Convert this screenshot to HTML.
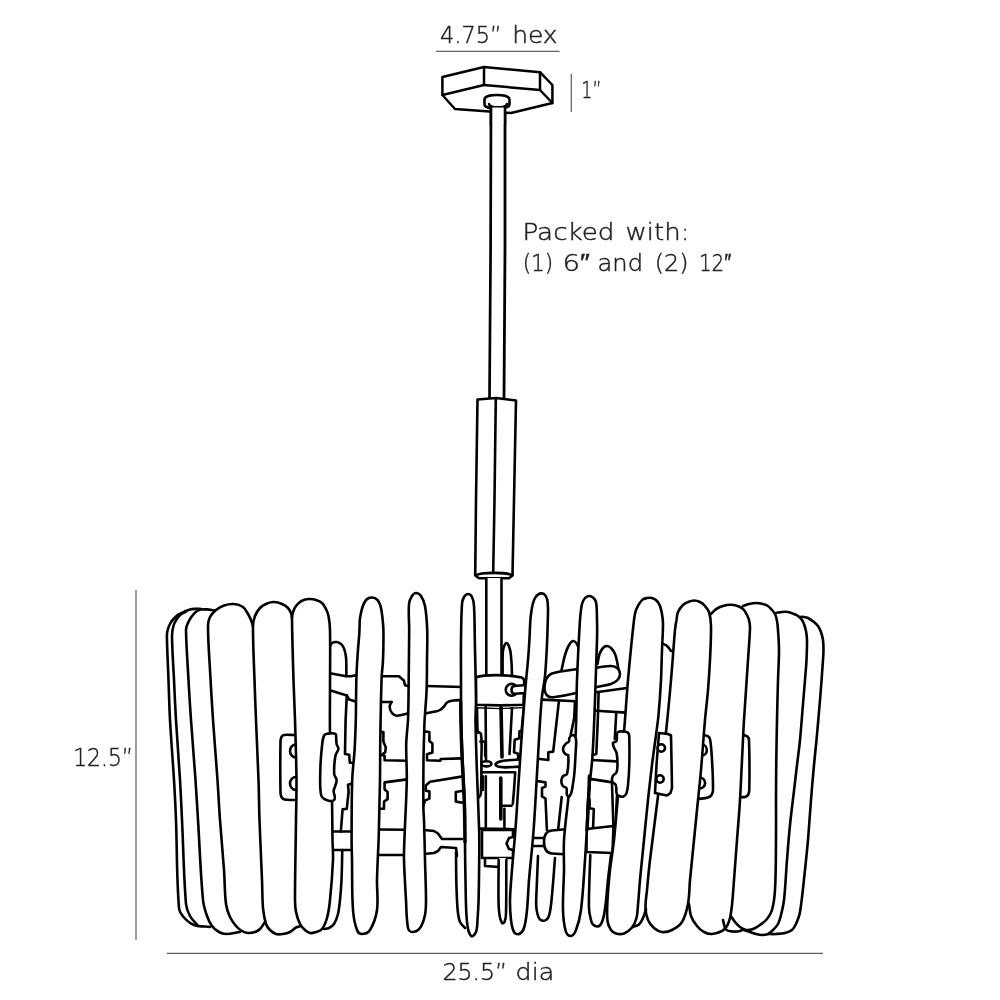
<!DOCTYPE html>
<html><head><meta charset="utf-8"><title>Pendant dimensions</title>
<style>
html,body{margin:0;padding:0;background:#fff}
body{width:1000px;height:1000px;overflow:hidden}
svg{display:block;will-change:transform}
text{font-family:"DejaVu Sans Light","DejaVu Sans","Liberation Sans",sans-serif;font-weight:200;fill:#222}
</style></head><body>
<svg width="1000" height="1000" viewBox="0 0 1000 1000" stroke-linejoin="round" stroke-linecap="round">
<rect width="1000" height="1000" fill="#fff"/>
<line x1="436" y1="51.4" x2="559.5" y2="51.4" stroke="#606060" stroke-width="1.25" stroke-linecap="butt"/>
<line x1="571.3" y1="74" x2="571.3" y2="112" stroke="#606060" stroke-width="1.25" stroke-linecap="butt"/>
<line x1="136" y1="590" x2="136" y2="940" stroke="#606060" stroke-width="1.25" stroke-linecap="butt"/>
<line x1="167" y1="953.4" x2="823" y2="953.4" stroke="#606060" stroke-width="1.25" stroke-linecap="butt"/>
<text y="43" font-size="23.5" stroke="#222" stroke-width="0.45"><tspan x="440" textLength="61.5" lengthAdjust="spacingAndGlyphs">4.75”</tspan> <tspan x="512.2" textLength="45.4" lengthAdjust="spacingAndGlyphs">hex</tspan></text>
<text y="98" font-size="23.5" stroke="#222" stroke-width="0.45"><tspan x="581.3" textLength="20.2" lengthAdjust="spacingAndGlyphs">1”</tspan></text>
<text y="240" font-size="23.5" stroke="#222" stroke-width="0.45"><tspan x="522.5" textLength="92" lengthAdjust="spacingAndGlyphs">Packed</tspan> <tspan x="625.5" textLength="64" lengthAdjust="spacingAndGlyphs">with:</tspan></text>
<text y="270.5" font-size="23.5" stroke="#222" stroke-width="0.45"><tspan x="522.7" textLength="30.6" lengthAdjust="spacingAndGlyphs">(1)</tspan> <tspan x="562.4" textLength="27.3" lengthAdjust="spacingAndGlyphs">6″</tspan> <tspan x="597.5" textLength="45.5" lengthAdjust="spacingAndGlyphs">and</tspan> <tspan x="654.7" textLength="33.8" lengthAdjust="spacingAndGlyphs">(2)</tspan> <tspan x="698.9" textLength="32.3" lengthAdjust="spacingAndGlyphs">12″</tspan></text>
<text y="766" font-size="24.5" stroke="#222" stroke-width="0.45"><tspan x="73.2" textLength="60" lengthAdjust="spacingAndGlyphs">12.5”</tspan></text>
<text y="980" font-size="23.5" stroke="#222" stroke-width="0.45"><tspan x="442.4" textLength="65" lengthAdjust="spacingAndGlyphs">25.5”</tspan> <tspan x="515.6" textLength="38.6" lengthAdjust="spacingAndGlyphs">dia</tspan></text>
<path d="M491 104L490.6 250L489.5 399L504 399L505 250L505 104Z" fill="#fff" stroke="none" stroke-width="0" />
<path d="M491 104L490.6 250L489.5 399" fill="none" stroke="#000" stroke-width="2.7" />
<path d="M505 104L505 250L504 399" fill="none" stroke="#000" stroke-width="2.8" />
<path d="M442.4 77L484 67L540 72.2L552.4 85L552.4 103L511 113L455 109L442.4 95Z" fill="#fff" stroke="#000" stroke-width="2.5" />
<path d="M484 67L484 85L442.4 95" fill="none" stroke="#000" stroke-width="2.5" />
<path d="M484 85L540 90L540 72.2" fill="none" stroke="#000" stroke-width="2.5" />
<path d="M540 90L552.4 103" fill="none" stroke="#000" stroke-width="2.5" />
<path d="M484.5 99.5 C484.5 93.5 509.5 93.5 509.5 99.5 L509.5 104.5 C509.5 110 484.5 110 484.5 104.5 Z" fill="#fff" stroke="#000" stroke-width="2.6"/>
<path d="M489 104 C490 108.5 506 108.5 507 104" fill="none" stroke="#000" stroke-width="2.6"/>
<path d="M491 107.5 L491 125 L505 125 L505 107.5" fill="#fff" stroke="none"/>
<path d="M491 106.5L491 125" fill="none" stroke="#000" stroke-width="2.6" />
<path d="M505 106.5L505 125" fill="none" stroke="#000" stroke-width="2.6" />
<path d="M477.5 399.5L496 398L516 400.5L514 500L512.5 575.5L509 578.3L479 578.3L475.2 575.5L476 500Z" fill="#fff" stroke="#000" stroke-width="2.6" />
<path d="M495.8 398.5L494.5 500L493.2 573" fill="none" stroke="#000" stroke-width="2.6" />
<path d="M475.8 575.5 C480 572 508 572 512.2 575.5" fill="none" stroke="#000" stroke-width="2.6"/>
<path d="M486.3 578L486.3 676L501.5 676L501.5 578Z" fill="#fff" stroke="none" stroke-width="0" />
<path d="M486.3 578L486.3 676" fill="none" stroke="#000" stroke-width="2.6" />
<path d="M501.5 578L501.5 676" fill="none" stroke="#000" stroke-width="2.6" />
<path d="M330 646C330.7 645 331 643.6 332 643C333.3 642.2 335 641.8 336.6 642C338.2 642.2 339.8 643 341 644C342.3 645 343.1 646.5 343.8 648C344.7 649.9 345.1 652 345.5 654C345.9 656 346.1 658 346.2 660C346.4 665.3 346.3 670.7 346.4 676" fill="none" stroke="#000" stroke-width="2.6" />
<path d="M502.6 676C502.7 668 502.4 660 502.8 652C502.9 649.9 503.4 647.9 504.2 646C504.7 644.8 505.3 643 506.6 643C507.8 643 508.3 644.9 508.8 646C509.6 647.9 510.2 649.9 510.5 652C511.1 656 511.3 660 511.6 664C511.8 668 511.9 672 512 676L512 700L503 700Z" fill="#fff" stroke="none" stroke-width="0" />
<path d="M502.6 676C502.7 668 502.4 660 502.8 652C502.9 649.9 503.4 647.9 504.2 646C504.7 644.8 505.3 643 506.6 643C507.8 643 508.3 644.9 508.8 646C509.6 647.9 510.2 649.9 510.5 652C511.1 656 511.3 660 511.6 664C511.8 668 511.9 672 512 676" fill="none" stroke="#000" stroke-width="2.6" />
<path d="M560 676C560.7 673.3 561.4 670.7 562 668C563 663.7 563.7 659.3 565 655C565.9 651.9 566.9 648.8 568.5 646C569.6 644.1 570.8 641.5 573 641C574.6 640.6 576.1 642.6 577 644C578.2 645.8 578.3 648 579 650L579 700L560 700Z" fill="#fff" stroke="none" stroke-width="0" />
<path d="M560 676C560.7 673.3 561.4 670.7 562 668C563 663.7 563.7 659.3 565 655C565.9 651.9 566.9 648.8 568.5 646C569.6 644.1 570.8 641.5 573 641C574.6 640.6 576.1 642.6 577 644C578.2 645.8 578.3 648 579 650" fill="none" stroke="#000" stroke-width="2.6" />
<path d="M597.5 664C598.2 660.7 598.4 657.2 599.5 654C600.3 651.8 601.4 649.7 603 648C604 646.9 605.5 645.9 607 646C608.7 646.1 610.3 647.3 611.5 648.5C613 650 614.1 652 615 654C616 656.2 616.5 658.6 617 661C617.6 664 618 667 618.5 670L618 700L597 700Z" fill="#fff" stroke="none" stroke-width="0" />
<path d="M597.5 664C598.2 660.7 598.4 657.2 599.5 654C600.3 651.8 601.4 649.7 603 648C604 646.9 605.5 645.9 607 646C608.7 646.1 610.3 647.3 611.5 648.5C613 650 614.1 652 615 654C616 656.2 616.5 658.6 617 661C617.6 664 618 667 618.5 670" fill="none" stroke="#000" stroke-width="2.6" />
<path d="M663.5 644C664.7 644.7 666 645.1 667 646C668.6 647.5 669.7 649.3 671 651" fill="none" stroke="#000" stroke-width="2.6" />
<path d="M342.3 850C342 860 342 870 341.5 880C341.2 886.7 340.7 893.3 340 900C339.5 904.7 339.1 909.4 338 914C337.1 917.5 335.9 921 334 924C332.8 925.8 330.9 927 329 928C327.5 928.8 325.7 928.7 324 929" fill="none" stroke="#000" stroke-width="2.6" />
<path d="M456 852C456.1 861.3 456.1 870.7 456.3 880C456.4 886.7 456.7 893.3 457 900C457.2 904.3 457.4 908.7 458 913C458.4 916 458.7 919.2 460 922C461.1 924.4 463.3 926 465 928" fill="none" stroke="#000" stroke-width="2.6" />
<path d="M330 673.2L346.2 676.2L351 676.2L357 675" fill="none" stroke="#000" stroke-width="2.6" />
<path d="M330.6 690.6L346.8 695.4L349.2 699.6L357 702" fill="none" stroke="#000" stroke-width="2.6" />
<path d="M346.8 695.4L345.6 720L345 754L349.2 754.8L349.8 762.6L353 763" fill="none" stroke="#000" stroke-width="2.6" />
<path d="M352 783.6L348 784.8L348.6 792L347.4 802.8L346.8 808.8L342.6 809.4L340.8 831.6" fill="none" stroke="#000" stroke-width="2.6" />
<path d="M331 831.5L353 831.5" fill="none" stroke="#000" stroke-width="2.6" />
<path d="M331 850L353 850" fill="none" stroke="#000" stroke-width="2.6" />
<path d="M382 676.2L399 676.2L403.8 680.4L405 685.2L410 686.4" fill="none" stroke="#000" stroke-width="2.6" />
<path d="M382 702L391.5 702" fill="none" stroke="#000" stroke-width="2.6" />
<path d="M391.5 702C390.9 703.6 389.6 705.1 389.6 706.8C389.7 708.9 390.5 711.1 391.8 712.8C393 714.3 394.7 715.8 396.6 715.8C401.2 715.8 405.5 713.8 410 712.8" fill="none" stroke="#000" stroke-width="2.6" />
<path d="M380 732L383.4 732L383.4 741.6L385.8 747.6L385.2 752.4L381.6 754.8L384.6 756L384.6 760.2L408 760.8" fill="none" stroke="#000" stroke-width="2.6" />
<path d="M407 779.4L384.6 782.4L384.6 789.6L387.6 792L387.6 799.2L384 801.6L384 808.8L379 808.8" fill="none" stroke="#000" stroke-width="2.6" />
<path d="M378 829.5L406 829.8" fill="none" stroke="#000" stroke-width="2.6" />
<path d="M377 855L406 855" fill="none" stroke="#000" stroke-width="2.6" />
<path d="M426 686L462 687" fill="none" stroke="#000" stroke-width="2.6" />
<path d="M426 713.4C429 712.8 432 712.3 435 711.6C436.7 711.2 438.5 710.9 440 710C441.5 709.1 442.8 707.8 444 706.5C445.1 705.3 445.6 703.4 447 702.5C448.8 701.3 450.9 700.8 453 700.5C456 700 459 700.2 462 700" fill="none" stroke="#000" stroke-width="2.6" />
<path d="M424 731.4L429.4 732L429.4 741L432.4 743.4L432.4 752.4L427 754.2L427 760.2L440.2 760.8L440.8 759L462 758.4" fill="none" stroke="#000" stroke-width="2.6" />
<path d="M463 776.4L430 781.8L425.8 785.4L425.8 790.8L429.4 791.4L429.4 798.6L425.2 800.4L423 806.4" fill="none" stroke="#000" stroke-width="2.6" />
<path d="M463 790.8L455.8 792L455.8 801.6L463 802.8" fill="none" stroke="#000" stroke-width="2.6" />
<path d="M424 830L434 831L438 833.5L442 839L462 839" fill="none" stroke="#000" stroke-width="2.6" />
<path d="M424 854L434 853L438 851L441 847L456 848L457 856" fill="none" stroke="#000" stroke-width="2.6" />
<path d="M476 677.3 C484 674.6 506 674.2 521.5 677.6 C523.5 678.2 524.2 679.5 524.2 681.5 L523.5 704.8 L500 705.4 L476 704.8 Z" fill="#fff" stroke="#000" stroke-width="2.6"/>
<path d="M476 707.8L500 708.6L523 707.6" fill="none" stroke="#000" stroke-width="1.4" />
<circle cx="511.6" cy="689.8" r="5.9" fill="#fff" stroke="#000" stroke-width="2.6"/>
<path d="M526 685 L514.5 686 C510.5 686.5 510.5 693.5 514.5 693.8 L526 693 Z" fill="#fff" stroke="#000" stroke-width="2.6"/>
<path d="M477 708L477.5 733" fill="none" stroke="#000" stroke-width="2.6" />
<path d="M485.6 707L486 760" fill="none" stroke="#000" stroke-width="2.6" />
<path d="M501 707L502 757" fill="none" stroke="#000" stroke-width="3.6" />
<path d="M512 708L509.5 754" fill="none" stroke="#000" stroke-width="2.6" />
<path d="M524 707L521.6 731" fill="none" stroke="#000" stroke-width="2.6" />
<path d="M477 731C478.3 732 480.7 732.4 481 734C482.3 742.6 481.4 751.3 481.4 760C481.4 771.3 481.6 782.7 480.8 794C480.7 795.3 479.5 796.3 478.8 797.5" fill="none" stroke="#000" stroke-width="2.6" />
<path d="M480.4 741.6L485.2 741.6L485.2 756" fill="none" stroke="#000" stroke-width="2.6" />
<path d="M521.6 731L519.4 731.3L519.4 738.3L514.7 739.7L514 752.3L518.2 753.7L518 760" fill="none" stroke="#000" stroke-width="2.6" />
<ellipse cx="486.4" cy="763.8" rx="5" ry="2.6" fill="#fff" stroke="#000" stroke-width="2.6"/>
<path d="M521 759.5 L505 760.5 C499 761.2 495.5 763 495.5 764.6 C495.5 766.3 499 767.2 505 767.4 L521 766.6" fill="#fff" stroke="#000" stroke-width="2.6"/>
<path d="M481.6 772.2L515.2 772.2L514 790L512.8 804" fill="none" stroke="#000" stroke-width="2.6" />
<path d="M482.8 776.4L482.8 790" fill="none" stroke="#000" stroke-width="2.6" />
<path d="M485.8 776.4L485.8 826.8" fill="none" stroke="#000" stroke-width="2.6" />
<path d="M500.8 778L500.8 819" fill="none" stroke="#000" stroke-width="3.6" />
<path d="M500.8 805.8L511.6 805.8" fill="none" stroke="#000" stroke-width="2.6" />
<path d="M504.4 808.8L504.4 828" fill="none" stroke="#000" stroke-width="2.6" />
<path d="M480.4 828.6L515.2 829.2" fill="none" stroke="#000" stroke-width="2.6" />
<path d="M482 830L513 830L513 837L509 838L506.5 843.5L509 849L513 850L513 858L482 858Z" fill="#fff" stroke="#000" stroke-width="2.6" />
<path d="M485 860L485 866L499 867" fill="none" stroke="#000" stroke-width="2.6" />
<path d="M498.7 860C498.6 873.3 498.3 886.7 498.5 900C498.6 905 498.7 910 499.5 915C499.9 917.8 500.4 920.7 502 923C502.5 923.7 504.1 922.8 504.5 922C505.6 919.5 505.9 916.7 506 914C506.5 896 506.2 878 506.3 860L506 858L499 858Z" fill="#fff" stroke="none" stroke-width="0" />
<path d="M498.7 860C498.6 873.3 498.3 886.7 498.5 900C498.6 905 498.7 910 499.5 915C499.9 917.8 500.4 920.7 502 923C502.5 923.7 504.1 922.8 504.5 922C505.6 919.5 505.9 916.7 506 914C506.5 896 506.2 878 506.3 860" fill="none" stroke="#000" stroke-width="2.6" />
<path d="M544.6 686C544.9 683.4 545.2 680.7 546.5 678.5C547.8 676.4 549.7 674.3 552 673.6C559.8 671.2 567.9 670.4 576 669.3C583 668.4 590 668.3 597 667.6C601.7 667.2 606.3 665.8 611 666C613.3 666.1 615.8 666.8 617.5 668.3C619.1 669.7 620 671.9 620 674C620 676.2 618.9 678.4 617.5 680C615.8 681.9 613.4 683.2 611 684C606.5 685.5 601.6 685.8 597 687C589.9 688.8 583.1 691.3 576 693C569.1 694.7 562.1 696.1 555 697C552.8 697.3 550.4 697.5 548.5 696.5C546.8 695.7 545.7 693.8 545 692C544.3 690.1 544.4 688 544.6 686Z" fill="#fff" stroke="#000" stroke-width="2.6" />
<path d="M542 699.6L576 701.2" fill="none" stroke="#000" stroke-width="2.6" />
<path d="M558.8 702L553.2 751.6L548.3 752.3L548.3 760L538 758.8" fill="none" stroke="#000" stroke-width="2.6" />
<path d="M575 701L574.2 718L570.7 734.8" fill="none" stroke="#000" stroke-width="2.6" />
<path d="M537 781L545.5 782.4L545.5 786.6L542 788L542 796.4L545.5 798.5L546.9 830" fill="none" stroke="#000" stroke-width="2.6" />
<path d="M561.7 797L558 831" fill="none" stroke="#000" stroke-width="2.6" />
<path d="M533 838L544 838" fill="none" stroke="#000" stroke-width="2.6" />
<path d="M533 846L544 846" fill="none" stroke="#000" stroke-width="2.6" />
<path d="M568 829 L552 830.5 C546 831 544 836 544 842 C544 848 546 853 552 853.5 L568 854.5" fill="#fff" stroke="#000" stroke-width="2.6"/>
<path d="M538 856C537.6 865.7 537.2 875.3 536.8 885C536.6 891.7 536 898.3 536.2 905C536.3 908 536.7 911.1 537.5 914C538 915.9 538.4 918.3 540 919.5C541.6 920.7 544.3 921 546 920C548 918.8 549 916.3 549.5 914C551 907.8 551.4 901.4 552 895C553.2 882.7 554 870.3 555 858" fill="none" stroke="#000" stroke-width="2.6" />
<path d="M596 692.2L627 688" fill="none" stroke="#000" stroke-width="2.6" />
<path d="M596 710.8L626 712.6" fill="none" stroke="#000" stroke-width="2.6" />
<path d="M616.2 713.8L614.8 739" fill="none" stroke="#000" stroke-width="2.6" />
<path d="M592 760L616.2 761.4" fill="none" stroke="#000" stroke-width="2.6" />
<path d="M590 778.9L612.5 782.4" fill="none" stroke="#000" stroke-width="2.6" />
<path d="M589.6 788L587.5 796.4L589.6 800L589.6 808.3L593.8 809L593.1 827.2" fill="none" stroke="#000" stroke-width="2.6" />
<path d="M612 783.8L613.4 826" fill="none" stroke="#000" stroke-width="2.6" />
<path d="M616.9 796.4L615.5 830" fill="none" stroke="#000" stroke-width="2.6" />
<path d="M586.5 829L613.5 826L612.5 853L586.5 852Z" fill="#fff" stroke="#000" stroke-width="2.6" />
<path d="M590.3 855C590 865 589.5 875 589.3 885C589.1 892.7 588.7 900.3 589 908C589.1 911.4 589.7 914.7 590.5 918C591 920.3 591.3 922.9 593 924.5C594.5 925.9 597.2 927 599 926C601.4 924.7 602.2 921.6 603 919C604.4 914.5 604.9 909.7 605.5 905C606.6 896.7 607.1 888.3 608 880C608.9 871.7 610 863.3 611 855" fill="none" stroke="#000" stroke-width="2.6" />
<path d="M799 617C800.7 617 802.3 616.8 804 617C805.4 617.2 806.8 617.4 808 618C810.1 619.1 812.1 620.5 814 622C815.5 623.2 816.9 624.5 818 626C819.3 627.8 820.2 629.9 821 632C821.9 634.6 822.6 637.3 823 640C823.5 643.3 823.5 646.7 823.5 650C823.5 653.3 823.2 656.7 823 660C822.1 673.3 821.1 686.7 820 700C818.9 713.3 817.7 726.7 816.5 740C815.7 748.3 814.8 756.7 814 765C812.9 776.7 811.9 788.3 811 800C809.9 813.3 809.1 826.7 808 840C807.1 850 806.1 860 805 870C803.4 884 802.3 898.1 800 912C799.3 916.2 797.7 920.1 796 924C795 926.2 793.9 928.5 792 930C790 931.6 787.5 932.4 785 933C782.1 933.7 779 933.8 776 934C773.3 934.2 770.7 934 768 934L780 700Z" fill="#fff" stroke="none" stroke-width="0" />
<path d="M799 617C800.7 617 802.3 616.8 804 617C805.4 617.2 806.8 617.4 808 618C810.1 619.1 812.1 620.5 814 622C815.5 623.2 816.9 624.5 818 626C819.3 627.8 820.2 629.9 821 632C821.9 634.6 822.6 637.3 823 640C823.5 643.3 823.5 646.7 823.5 650C823.5 653.3 823.2 656.7 823 660C822.1 673.3 821.1 686.7 820 700C818.9 713.3 817.7 726.7 816.5 740C815.7 748.3 814.8 756.7 814 765C812.9 776.7 811.9 788.3 811 800C809.9 813.3 809.1 826.7 808 840C807.1 850 806.1 860 805 870C803.4 884 802.3 898.1 800 912C799.3 916.2 797.7 920.1 796 924C795 926.2 793.9 928.5 792 930C790 931.6 787.5 932.4 785 933C782.1 933.7 779 933.8 776 934C773.3 934.2 770.7 934 768 934" fill="none" stroke="#000" stroke-width="2.6" />
<path d="M776 613C778 612.7 780 612.2 782 612C784 611.8 786 611.7 788 612C790.1 612.3 792 613.2 794 614C795.4 614.6 796.8 615.1 798 616C799.5 617.1 800.9 618.5 802 620C802.9 621.2 803.5 622.6 804 624C804.8 626.3 805.6 628.6 806 631C806.6 634 806.9 637 807 640C807.1 646.7 806.8 653.3 806.5 660C806.2 666.7 805.5 673.3 805 680C804.2 690 803.3 700 802.5 710C801.7 720 801 730 800 740C799.2 748.4 798 756.7 797 765C795.8 775 794.7 785 793.5 795C792.3 805 791 815 790 825C788.8 836.7 787.9 848.3 787 860C785.9 873.3 785.5 886.7 784 900C783.4 905.1 782.2 910.1 781 915C780.2 918.1 779.5 921.2 778 924C776.8 926.3 774.8 928.2 773 930C771.5 931.5 769.9 933.1 768 934C766.2 934.8 764 935 762 935C760 935 758 934.5 756 934C754 933.5 752 932.7 750 932C748 931.3 746 930.7 744 930L760 700Z" fill="#fff" stroke="none" stroke-width="0" />
<path d="M776 613C778 612.7 780 612.2 782 612C784 611.8 786 611.7 788 612C790.1 612.3 792 613.2 794 614C795.4 614.6 796.8 615.1 798 616C799.5 617.1 800.9 618.5 802 620C802.9 621.2 803.5 622.6 804 624C804.8 626.3 805.6 628.6 806 631C806.6 634 806.9 637 807 640C807.1 646.7 806.8 653.3 806.5 660C806.2 666.7 805.5 673.3 805 680C804.2 690 803.3 700 802.5 710C801.7 720 801 730 800 740C799.2 748.4 798 756.7 797 765C795.8 775 794.7 785 793.5 795C792.3 805 791 815 790 825C788.8 836.7 787.9 848.3 787 860C785.9 873.3 785.5 886.7 784 900C783.4 905.1 782.2 910.1 781 915C780.2 918.1 779.5 921.2 778 924C776.8 926.3 774.8 928.2 773 930C771.5 931.5 769.9 933.1 768 934C766.2 934.8 764 935 762 935C760 935 758 934.5 756 934C754 933.5 752 932.7 750 932C748 931.3 746 930.7 744 930" fill="none" stroke="#000" stroke-width="2.6" />
<path d="M743 606C745 605.3 746.9 604.5 749 604C751.3 603.5 753.6 603 756 603C758.4 603 760.7 603.4 763 604C764.7 604.4 766.5 605 768 606C769.6 607 770.8 608.6 772 610C773.1 611.3 774.3 612.5 775 614C776 616.2 776.6 618.6 777 621C777.6 624 777.8 627 778 630C778.5 636.7 779 643.3 779 650C779 660 778.3 670 778 680C777.6 693.3 777.3 706.7 777 720C776.7 733.3 776.5 746.7 776.3 760C776.1 773.3 776.1 786.7 776 800C776 813.3 776.1 826.7 776 840C775.8 856.7 776 873.4 775 890C774.6 896.7 773.8 903.5 772 910C771.1 913.3 769.1 916.3 767 919C765.1 921.4 762.5 923.2 760 925C757.8 926.6 755.5 928.1 753 929C750.8 929.8 748.3 930.4 746 930C743.8 929.7 741.8 928.3 740 927C738.1 925.6 736.5 923.8 735 922C733.2 919.8 731.7 917.3 730 915L740 700Z" fill="#fff" stroke="none" stroke-width="0" />
<path d="M743 606C745 605.3 746.9 604.5 749 604C751.3 603.5 753.6 603 756 603C758.4 603 760.7 603.4 763 604C764.7 604.4 766.5 605 768 606C769.6 607 770.8 608.6 772 610C773.1 611.3 774.3 612.5 775 614C776 616.2 776.6 618.6 777 621C777.6 624 777.8 627 778 630C778.5 636.7 779 643.3 779 650C779 660 778.3 670 778 680C777.6 693.3 777.3 706.7 777 720C776.7 733.3 776.5 746.7 776.3 760C776.1 773.3 776.1 786.7 776 800C776 813.3 776.1 826.7 776 840C775.8 856.7 776 873.4 775 890C774.6 896.7 773.8 903.5 772 910C771.1 913.3 769.1 916.3 767 919C765.1 921.4 762.5 923.2 760 925C757.8 926.6 755.5 928.1 753 929C750.8 929.8 748.3 930.4 746 930C743.8 929.7 741.8 928.3 740 927C738.1 925.6 736.5 923.8 735 922C733.2 919.8 731.7 917.3 730 915" fill="none" stroke="#000" stroke-width="2.6" />
<path d="M744 735C745.2 735.5 746.6 735.6 747.5 736.5C748.4 737.4 749 738.7 749 740C749.6 756.7 749.6 773.3 749.3 790C749.3 791.7 748.9 793.5 748 795C747.4 796 746.2 796.7 745 797C743.4 797.4 741.7 797 740 797L738 735Z" fill="#fff" stroke="none" stroke-width="0" />
<path d="M744 735C745.2 735.5 746.6 735.6 747.5 736.5C748.4 737.4 749 738.7 749 740C749.6 756.7 749.6 773.3 749.3 790C749.3 791.7 748.9 793.5 748 795C747.4 796 746.2 796.7 745 797C743.4 797.4 741.7 797 740 797" fill="none" stroke="#000" stroke-width="2.6" />
<path d="M711 614C712.3 612.7 713.5 611.2 715 610C716.5 608.8 718.2 607.7 720 607C722.2 606.1 724.6 605.3 727 605C729.3 604.7 731.7 604.6 734 605C736.1 605.3 738.1 606.1 740 607C741.5 607.7 742.9 608.7 744 610C745.3 611.5 746.1 613.3 747 615C747.8 616.6 748.6 618.3 749 620C749.6 622.6 750.1 625.3 750 628C749.7 638.7 748.7 649.3 748 660C747.4 670 746.7 680 746 690C745.3 700 744.6 710 744 720C743.2 733.3 742.7 746.7 742 760C741.3 773.3 740.8 786.7 740 800C739.2 813.3 738 826.7 737 840C736 853.3 735 866.7 734 880C733.4 888.3 732.9 896.7 732 905C731.5 909.4 731 913.7 730 918C729.3 920.8 728.5 923.6 727 926C725.8 928 724.1 929.9 722 931C718.9 932.6 715.5 933.8 712 934C709.3 934.2 706.4 933.3 704 932C701.3 930.6 698.9 928.4 697 926C694.5 923 692.3 919.7 691 916C689.6 912.2 689.7 908 689 904L700 700Z" fill="#fff" stroke="none" stroke-width="0" />
<path d="M711 614C712.3 612.7 713.5 611.2 715 610C716.5 608.8 718.2 607.7 720 607C722.2 606.1 724.6 605.3 727 605C729.3 604.7 731.7 604.6 734 605C736.1 605.3 738.1 606.1 740 607C741.5 607.7 742.9 608.7 744 610C745.3 611.5 746.1 613.3 747 615C747.8 616.6 748.6 618.3 749 620C749.6 622.6 750.1 625.3 750 628C749.7 638.7 748.7 649.3 748 660C747.4 670 746.7 680 746 690C745.3 700 744.6 710 744 720C743.2 733.3 742.7 746.7 742 760C741.3 773.3 740.8 786.7 740 800C739.2 813.3 738 826.7 737 840C736 853.3 735 866.7 734 880C733.4 888.3 732.9 896.7 732 905C731.5 909.4 731 913.7 730 918C729.3 920.8 728.5 923.6 727 926C725.8 928 724.1 929.9 722 931C718.9 932.6 715.5 933.8 712 934C709.3 934.2 706.4 933.3 704 932C701.3 930.6 698.9 928.4 697 926C694.5 923 692.3 919.7 691 916C689.6 912.2 689.7 908 689 904" fill="none" stroke="#000" stroke-width="2.6" />
<path d="M723 920C724 923.2 723.8 927 726 929.5C727.6 931.3 730.6 931.2 733 931.5C735.3 931.7 737.7 931.5 740 931C741.5 930.7 742.7 929.7 744 929" fill="none" stroke="#000" stroke-width="2.6" />
<path d="M703 735C704.5 735.3 706.2 735.2 707.5 736C708.6 736.6 709.8 737.7 710 739C711.3 745.9 711.6 753 712 760C712.6 770 713.1 780 713 790C713 791.7 712.5 793.6 711.5 795C710.7 796.2 709.4 797.1 708 797.5C704.8 798.5 701.3 798.5 698 799L696 735Z" fill="#fff" stroke="none" stroke-width="0" />
<path d="M703 735C704.5 735.3 706.2 735.2 707.5 736C708.6 736.6 709.8 737.7 710 739C711.3 745.9 711.6 753 712 760C712.6 770 713.1 780 713 790C713 791.7 712.5 793.6 711.5 795C710.7 796.2 709.4 797.1 708 797.5C704.8 798.5 701.3 798.5 698 799" fill="none" stroke="#000" stroke-width="2.6" />
<ellipse cx="701.8" cy="750" rx="5" ry="5.5" fill="none" stroke="#000" stroke-width="2.6"/>
<ellipse cx="699.6" cy="783" rx="5.5" ry="5.5" fill="none" stroke="#000" stroke-width="2.6"/>
<path d="M675 630C675.3 626.6 675.9 623.3 676.5 620C676.9 617.3 676.9 614.5 678 612C679.1 609.4 681 607 683 605C684.4 603.6 686.2 602.7 688 602C689.9 601.2 691.9 600.5 694 600.5C696.1 600.5 698.2 601.1 700 602C701.9 603 703.6 604.4 705 606C706.6 607.8 708.3 609.7 709 612C710.4 616.5 710.9 621.3 711 626C711.2 637.3 710.5 648.7 710 660C709.5 670 708.8 680 708 690C707.2 700 705.9 710 705 720C703.5 736.7 702.5 753.3 701 770C699.8 783.3 698.3 796.7 697 810C696 820 695 830 694 840C692.7 853.3 691.3 866.7 690 880C689.3 888 689.5 896.1 688 904C686.8 910.2 685.3 916.6 682 922C679.8 925.6 675.8 928.1 672 930C669 931.5 665.4 932.4 662 932C659 931.7 656.3 929.9 654 928C651.5 925.8 649.3 923.1 648 920C646.4 916.2 645.6 912.1 645.5 908C645.3 902 646.4 896 647 890C647.9 880 648.8 870 650 860C652.5 838.6 655.3 817.3 658 796C660.7 774.7 663.6 753.4 666 732C667.9 714.7 669.5 697.3 671 680C672.5 663.3 673.5 646.7 675 630Z" fill="#fff" stroke="#000" stroke-width="2.6" />
<path d="M634 620C634.4 616.6 634.7 613.2 636 610C637.4 606.4 639.4 602.9 642 600C643.2 598.7 645.2 598.4 647 598C648.6 597.7 650.4 597.5 652 598C653.9 598.6 655.6 599.6 657 601C658.4 602.4 659.3 604.2 660 606C661 608.6 661.5 611.3 662 614C662.6 617.3 663 620.7 663 624C663 632.7 662.3 641.3 662 650C661.6 660 661.5 670 661 680C660.4 691.7 659.6 703.4 658.5 715C657.9 721.7 656.9 728.3 656 735C654.7 745 653.2 755 652 765C650.6 776.7 649.2 788.3 648 800C646.6 813.3 645.3 826.7 644 840C642.7 853.3 641.2 866.7 640 880C639.2 888.3 638.8 896.7 638 905C637.6 909.3 637.6 913.8 636.5 918C635.6 921.4 634.2 924.8 632 927.5C629.9 930.1 627.1 932.3 624 933.5C621.5 934.4 618.6 934.2 616 933.5C614 933 612.1 931.7 611 930C609.2 927.3 607.9 924.2 607.5 921C606.7 914 607.2 907 607.5 900C608 890 608.9 880 610 870C611.1 860 612.9 850 614 840C615.6 825.4 616.6 810.7 618 796C620 774.7 622.2 753.3 624 732C625.5 714.7 626.5 697.3 628 680C629.8 660 631.7 640 634 620Z" fill="#fff" stroke="#000" stroke-width="2.6" />
<path d="M633 927C635 926.2 637.4 925.9 639 924.5C640.9 922.8 642 920.3 643 918C644.3 915.1 645 912 646 909" fill="none" stroke="#000" stroke-width="2.6" />
<path d="M659 733L668 734L671 735.5L671.5 760L672 788L670.5 793L667 795.5L655 793L656.5 765Z" fill="#fff" stroke="#000" stroke-width="2.6" />
<circle cx="661.3" cy="748" r="3.7" fill="#fff" stroke="#000" stroke-width="2.6"/>
<circle cx="660" cy="779" r="3.7" fill="#fff" stroke="#000" stroke-width="2.6"/>
<path d="M618.4 731.7C620.7 731.1 623.2 731.3 625.6 731.7C626.7 731.9 628 732.5 628.6 733.5C629.4 734.8 629.3 736.5 629.3 738C629.5 747 629.5 756 629.3 765C629.1 771.7 628.7 778.4 628 785C627.7 787.7 627.5 790.5 626.5 793C625.9 794.4 625 796 623.5 796.5C621.9 797.1 620 796.5 618.4 795.8C617.5 795.4 616.8 794.4 616.6 793.5C616.1 791.4 616.5 789.2 616.2 787C616.1 786.1 616 785.2 615.5 784.5C614.7 783.3 612.7 782.9 612.3 781.5C611.7 779.7 612 777.7 612.8 776C613.5 774.5 615.7 774 616.4 772.5C617.4 770.2 617.5 767.5 617.5 765C617.5 761 617.4 756.9 616.6 753C616.2 751.2 614.8 749.7 614.2 748C613.6 746.4 612.5 744.6 613 743C613.4 741.7 616 742.2 616.5 741C617.5 738.9 616.5 736.3 617 734C617.2 733.1 617.5 731.9 618.4 731.7Z" fill="#fff" stroke="#000" stroke-width="2.6" />
<path d="M201 609C199.3 608.9 197.7 608.7 196 608.8C194 608.9 192 608.9 190 609.4C188.1 609.9 186.2 610.8 184.4 611.6C182.2 612.6 180 613.5 178 614.8C176.3 616 174.9 617.5 173.5 619C172.4 620.2 171.3 621.5 170.5 623C169.4 625.1 168.4 627.2 167.8 629.5C167.2 631.6 166.9 633.8 166.9 636C167.1 650.7 168 665.3 168.5 680C169 693.3 169.3 706.7 170 720C171.1 740 172.8 760 174 780C174.8 793.3 175.5 806.7 176 820C177.1 849.3 176.6 878.7 179 908C179.3 911.6 181.6 914.8 184 917.5C186.8 920.6 190.1 923.6 194 925C199 926.8 204.7 926.3 210 927L210 700Z" fill="#fff" stroke="none" stroke-width="0" />
<path d="M201 609C199.3 608.9 197.7 608.7 196 608.8C194 608.9 192 608.9 190 609.4C188.1 609.9 186.2 610.8 184.4 611.6C182.2 612.6 180 613.5 178 614.8C176.3 616 174.9 617.5 173.5 619C172.4 620.2 171.3 621.5 170.5 623C169.4 625.1 168.4 627.2 167.8 629.5C167.2 631.6 166.9 633.8 166.9 636C167.1 650.7 168 665.3 168.5 680C169 693.3 169.3 706.7 170 720C171.1 740 172.8 760 174 780C174.8 793.3 175.5 806.7 176 820C177.1 849.3 176.6 878.7 179 908C179.3 911.6 181.6 914.8 184 917.5C186.8 920.6 190.1 923.6 194 925C199 926.8 204.7 926.3 210 927" fill="none" stroke="#000" stroke-width="2.6" />
<path d="M186 611.6C185.2 612 184.4 612.4 183.6 612.8C182.5 613.4 181.3 613.9 180.4 614.8C178.9 616.2 177.5 617.8 176.4 619.6C175.2 621.6 174 623.7 173.4 626C172.5 629.3 172 632.6 172 636C172.2 650.7 173.3 665.3 174 680C174.6 693.3 175.2 706.7 176 720C177.2 740 178.8 760 180 780C180.8 793.3 181.4 806.7 182 820C183.4 848 183.7 876.1 186 904C186.4 908.2 188 912.3 190 916C192 919.7 195.3 922.7 198 926" fill="none" stroke="#000" stroke-width="2.6" />
<path d="M214 610.3C211.7 610 209.3 609.5 207 609.4C205 609.3 203 609.2 201 609.6C199.2 610 197.4 610.7 196 611.8C194 613.4 192.4 615.4 191 617.5C189.6 619.5 188.4 621.7 187.5 624C186.7 625.9 186 627.9 186 630C186.3 646.7 187.6 663.3 188.5 680C189.2 693.3 190.1 706.7 191 720C192.4 740 194.1 760 195.5 780C196.4 793.3 197.2 806.7 198 820C199.7 846.7 200.5 873.4 203 900C203.5 905.5 205.2 910.8 207 916C208.2 919.5 209.8 923 212 926C213.8 928.5 216.3 930.5 219 932C221.1 933.2 223.6 934 226 934C230.7 934 235.3 932.7 240 932L240 700Z" fill="#fff" stroke="none" stroke-width="0" />
<path d="M214 610.3C211.7 610 209.3 609.5 207 609.4C205 609.3 203 609.2 201 609.6C199.2 610 197.4 610.7 196 611.8C194 613.4 192.4 615.4 191 617.5C189.6 619.5 188.4 621.7 187.5 624C186.7 625.9 186 627.9 186 630C186.3 646.7 187.6 663.3 188.5 680C189.2 693.3 190.1 706.7 191 720C192.4 740 194.1 760 195.5 780C196.4 793.3 197.2 806.7 198 820C199.7 846.7 200.5 873.4 203 900C203.5 905.5 205.2 910.8 207 916C208.2 919.5 209.8 923 212 926C213.8 928.5 216.3 930.5 219 932C221.1 933.2 223.6 934 226 934C230.7 934 235.3 932.7 240 932" fill="none" stroke="#000" stroke-width="2.6" />
<path d="M253 626C252.3 624 251.8 621.9 251 620C250.1 617.9 249.2 615.9 248 614C246.5 611.6 245.3 608.7 243 607C240.4 605.2 237.2 604.2 234 604C230.6 603.7 227.2 604.4 224 605.5C221.1 606.5 218.4 608.1 216 610C213.6 612 211.4 614.3 210 617C208.6 619.7 208 622.9 208 626C208 640.7 209.2 655.3 210 670C210.9 686.7 211.9 703.3 213 720C214.4 740 216.1 760 217.5 780C218.4 793.3 219 806.7 220 820C221.2 836.7 222.8 853.3 224 870C224.8 881.3 224.6 892.7 226 904C226.6 908.5 228.1 912.9 230 917C231.5 920.3 233.7 923.3 236 926C237.7 928 239.8 929.7 242 931C243.8 932.1 245.9 932.8 248 933C250.4 933.2 252.8 932.7 255 932C256.8 931.4 258.6 930.4 260 929C262 927 263.3 924.3 265 922L265 700Z" fill="#fff" stroke="none" stroke-width="0" />
<path d="M253 626C252.3 624 251.8 621.9 251 620C250.1 617.9 249.2 615.9 248 614C246.5 611.6 245.3 608.7 243 607C240.4 605.2 237.2 604.2 234 604C230.6 603.7 227.2 604.4 224 605.5C221.1 606.5 218.4 608.1 216 610C213.6 612 211.4 614.3 210 617C208.6 619.7 208 622.9 208 626C208 640.7 209.2 655.3 210 670C210.9 686.7 211.9 703.3 213 720C214.4 740 216.1 760 217.5 780C218.4 793.3 219 806.7 220 820C221.2 836.7 222.8 853.3 224 870C224.8 881.3 224.6 892.7 226 904C226.6 908.5 228.1 912.9 230 917C231.5 920.3 233.7 923.3 236 926C237.7 928 239.8 929.7 242 931C243.8 932.1 245.9 932.8 248 933C250.4 933.2 252.8 932.7 255 932C256.8 931.4 258.6 930.4 260 929C262 927 263.3 924.3 265 922" fill="none" stroke="#000" stroke-width="2.6" />
<path d="M292 618C291.7 616.3 291.6 614.6 291 613C290.3 611.2 289.4 609.4 288 608C286.3 606.3 284.2 604.9 282 604C279.5 602.9 276.7 602.1 274 602C271.6 601.9 269.2 602.6 267 603.5C264.5 604.6 261.9 606 260 608C257.8 610.3 256.1 613.1 255 616C253.8 619.2 253 622.6 253 626C252.9 644 253.9 662 254.5 680C254.9 693.3 255.5 706.7 256 720C256.8 740 257.8 760 258.5 780C259 793.3 259 806.7 259.5 820C260.2 840 261.2 860 262 880C262.4 889.3 262.2 898.7 263 908C263.5 913.4 264.4 918.8 266 924C266.7 926.3 268.3 928.3 270 930C271.7 931.7 273.7 933.3 276 934C278.2 934.7 280.7 934.3 283 934C285.4 933.7 287.8 933.1 290 932C292.2 930.9 293.8 928.7 296 927.5C297.5 926.7 299.3 926.5 301 926L301 700Z" fill="#fff" stroke="none" stroke-width="0" />
<path d="M292 618C291.7 616.3 291.6 614.6 291 613C290.3 611.2 289.4 609.4 288 608C286.3 606.3 284.2 604.9 282 604C279.5 602.9 276.7 602.1 274 602C271.6 601.9 269.2 602.6 267 603.5C264.5 604.6 261.9 606 260 608C257.8 610.3 256.1 613.1 255 616C253.8 619.2 253 622.6 253 626C252.9 644 253.9 662 254.5 680C254.9 693.3 255.5 706.7 256 720C256.8 740 257.8 760 258.5 780C259 793.3 259 806.7 259.5 820C260.2 840 261.2 860 262 880C262.4 889.3 262.2 898.7 263 908C263.5 913.4 264.4 918.8 266 924C266.7 926.3 268.3 928.3 270 930C271.7 931.7 273.7 933.3 276 934C278.2 934.7 280.7 934.3 283 934C285.4 933.7 287.8 933.1 290 932C292.2 930.9 293.8 928.7 296 927.5C297.5 926.7 299.3 926.5 301 926" fill="none" stroke="#000" stroke-width="2.6" />
<path d="M294 735C290.7 735 287.3 734.5 284 735C282.9 735.2 282 736.1 281.5 737C280.8 738.2 280.5 739.6 280.5 741C280.2 758.3 280.2 775.7 280.5 793C280.5 794.4 280.8 795.8 281.5 797C282.2 798.1 283.2 799.2 284.5 799.5C287.6 800.2 290.8 799.8 294 800L297 800L297 735Z" fill="#fff" stroke="none" stroke-width="0" />
<path d="M294 735C290.7 735 287.3 734.5 284 735C282.9 735.2 282 736.1 281.5 737C280.8 738.2 280.5 739.6 280.5 741C280.2 758.3 280.2 775.7 280.5 793C280.5 794.4 280.8 795.8 281.5 797C282.2 798.1 283.2 799.2 284.5 799.5C287.6 800.2 290.8 799.8 294 800" fill="none" stroke="#000" stroke-width="2.6" />
<ellipse cx="296" cy="751" rx="6" ry="6.5" fill="none" stroke="#000" stroke-width="2.6"/>
<ellipse cx="296" cy="783.5" rx="6" ry="6.5" fill="none" stroke="#000" stroke-width="2.6"/>
<path d="M292 618C292 616 292.4 613.9 293 612C293.7 609.9 294.7 607.8 296 606C297.1 604.5 298.5 603.1 300 602C301.5 600.9 303.2 600 305 599.5C306.6 599 308.3 598.9 310 599C312 599.1 314.1 599.4 316 600C318.1 600.7 320.3 601.5 322 603C323.8 604.6 324.9 606.9 326 609C327.1 611.2 328 613.6 328.5 616C329.4 620.6 329.9 625.3 330 630C330.4 650 330 670 330 690C330 704.3 329.7 718.7 330 733C330.4 755.3 331.5 777.7 332 800C332.3 813.3 332.3 826.7 332.5 840C332.6 846.7 333.3 853.3 333 860C332.4 873.4 331.4 886.7 330 900C329.4 906.1 328.6 912.1 327 918C325.9 921.9 324.5 925.8 322 929C320.6 930.8 318.1 931.3 316 932C314.1 932.6 312 933.4 310 933C308.1 932.7 306.4 931.3 305 930C303.1 928.3 301.2 926.3 300 924C298.1 920.2 296.9 916.1 296 912C295.2 908.1 295 904 295 900C295 873.3 295.7 846.7 296 820C296.2 806.7 296.6 793.3 296.5 780C296.3 760 295.6 740 295 720C294.6 706.7 293.9 693.3 293.5 680C292.9 659.3 292.2 638.7 292 618Z" fill="#fff" stroke="#000" stroke-width="2.6" />
<path d="M324 735.6C324.5 734.5 325.8 734 327 733.8C329.8 733.4 332.9 732.6 335.4 733.8C336.7 734.4 336 736.6 336.2 738C336.4 740 336.2 742 336.6 744C336.9 745.7 338.6 747.1 338.4 748.8C338.1 751.4 335.8 753.4 335.4 756C334.4 761.9 333.9 768 334.2 774C334.3 776.2 336.5 777.8 336.6 780C336.7 782.5 335.5 784.8 334.8 787.2C334.5 788.5 333.7 789.7 333.6 791C333.5 793.9 336.2 797.6 334.2 799.8C332.3 801.9 328.4 800.9 325.8 799.8C323.6 798.9 321.4 796.8 321 794.4C319.5 785.7 320.2 776.8 320.4 768C320.6 760 321.3 752 322.2 744C322.5 741.2 322.8 738.2 324 735.6Z" fill="#fff" stroke="#000" stroke-width="2.6" />
<path d="M360 618C360.6 614.3 361.3 610.5 362.5 607C363.4 604.3 364.5 601.5 366.5 599.5C367.9 598.1 370.1 597.4 372 597.5C374 597.6 376.1 598.6 377.5 600C379.1 601.6 379.8 603.9 380.5 606C381.3 608.6 381.7 611.3 382 614C382.6 619.3 383.3 624.6 383.4 630C383.6 640 383.4 650 383 660C382.8 666 381.8 672 381.6 678C381 696 380.7 714 380.4 732C380.1 748 380.2 764 380 780C379.8 792 379.5 804 379.2 816C379 824 378.9 832 378.6 840C378.1 853.3 377.3 866.7 377 880C376.8 890 378.4 900.1 377 910C376 917 373.7 924 370 930C368.4 932.5 365 934 362 934C359.9 934 357.7 932 357 930C354.6 923.6 353.5 916.8 353 910C351.8 893.4 352.3 876.7 352 860C351.9 853.3 351.6 846.7 351.6 840C351.7 820 351.5 800 352.2 780C352.5 770 354 760 354.6 750C355.2 740 355.5 730 355.8 720C356.1 706 356 692 356.4 678C356.6 670.3 357.1 662.7 357.6 655C358 648.3 358.7 641.7 359.2 635C359.4 632 359.5 629 359.6 626C359.7 623.3 359.6 620.6 360 618Z" fill="#fff" stroke="#000" stroke-width="2.6" />
<path d="M409 604C409.2 601.2 410.5 598.4 412 596C412.9 594.6 414.3 593 416 593C417.9 593 419.9 594.4 421 596C423 599 424.4 602.5 425 606C426.4 613.9 426.9 622 427.2 630C427.6 640 427.1 650 427 660C426.9 670 427 680 426.6 690C426.2 700 425.2 710 424.6 720C424.4 724 424.3 728 424.2 732C423.9 741.3 423.6 750.7 423.5 760C423.3 776 423.3 792 423.4 808C423.4 812 423.9 816 424 820C424.4 833.3 424.7 846.7 425 860C425.3 873.3 426 886.7 426 900C426 905 426 910.1 425 915C424 919.5 422.8 924.3 420 928C418.2 930.4 415 932 412 932C410.1 932 408.3 929.9 408 928C406.3 918.8 406.5 909.3 406 900C405.2 886.7 404.4 873.3 404 860C403.8 853.3 404.2 846.7 404.4 840C405.1 820 406.4 800 406.8 780C407 768 406 756 406.2 744C406.4 736 407.6 728 408 720C408.4 710 408.5 700 408.6 690C408.9 670 409.1 650 409.2 630C409.2 621.3 408.3 612.6 409 604Z" fill="#fff" stroke="#000" stroke-width="2.6" />
<path d="M462 604C462.2 601.6 462.8 599.1 464 597C464.9 595.6 466.3 594 468 594C469.7 594 471.3 595.5 472 597C473.4 599.7 473.8 602.9 474 606C474.7 617.3 474.6 628.7 474.8 640C475.2 660 475.8 680 476 700C476.1 706.7 475.4 713.3 475.5 720C475.7 736 476.3 752 476.8 768C477.3 782 477.9 796 478.4 810C478.7 820 479.3 830 479.3 840C479.3 860 479 880 478.6 900C478.4 906.7 478 913.3 477.5 920C477.2 924 477.5 928.3 476 932C475.2 934 472.4 937.6 471 936C467.8 932.4 467.5 926.8 467 922C465.6 908.1 465.8 894 465.5 880C465.2 866.7 465.1 853.3 465 840C464.9 828 465.2 816 464.8 804C464.3 788 463.1 772 462.4 756C461.9 744 461.4 732 461.2 720C461 706.7 461 693.3 461 680C461 666.7 460.8 653.3 461 640C461.2 628 461.2 616 462 604Z" fill="#fff" stroke="#000" stroke-width="2.6" />
<path d="M460.7 702C460.8 708.7 460.7 715.3 460.9 722C461.2 733.3 461.5 744.7 462 756C462.7 772 463.7 788 464.3 804C464.7 816.7 464.8 829.3 465 842" fill="none" stroke="#000" stroke-width="3.4" />
<path d="M531.6 610C531.9 608 532.2 606 532.8 604C533.4 602 534 599.9 535 598C535.7 596.7 536.8 595.5 538 594.6C539 593.9 540.3 593.3 541.6 593.4C542.9 593.5 544.2 594.1 545 595C546.1 596.2 546.8 597.9 547.2 599.5C547.8 602.3 547.9 605.2 548 608C548.1 612 547.9 616 547.8 620C547.6 628 547.4 636 547 644C546.5 654.7 546 665.4 545 676C544.2 684 542.3 691.9 541.6 700C539.9 720 539 740 537.8 760C536.4 783.3 535.3 806.7 533.6 830C532.4 846.7 530.4 863.3 529 880C528.2 890 528 900 527 910C526.4 916.1 525.9 922.2 524 928C523.2 930.5 521.4 933 519 934C517.3 934.7 514.9 933.6 514 932C512 928.4 511.5 924.1 511 920C510.2 913.4 509.9 906.7 510 900C510.2 890 511.2 880 512 870C513 856.7 514.4 843.3 515.4 830C516.5 816 517.3 802 518.2 788C519.1 774 520 760 521 746C522.3 727.3 523.7 708.7 525.2 690C526 680 527.2 670 528 660C528.6 653.3 529 646.7 529.4 640C529.8 633.3 529.9 626.7 530.4 620C530.6 616.7 531.1 613.3 531.6 610Z" fill="#fff" stroke="#000" stroke-width="2.6" />
<path d="M580 620C580.4 614.6 580.8 609.2 582 604C582.5 601.8 583.5 599.7 585 598C586 596.9 587.5 596.1 589 596C590.4 595.9 591.9 596.6 593 597.5C594.4 598.7 595.7 600.2 596 602C597.1 607.9 596.8 614 597 620C597.2 626.7 597.2 633.3 597 640C596.5 660 595.8 680 595 700C594.3 719 593.7 738 592.4 757C591.4 771.4 589.1 785.6 588 800C587.2 810 587.3 820 586.8 830C586.3 840 585.7 850 585 860C583.8 876.7 583.1 893.4 581 910C580.1 916.8 578.5 923.6 576 930C575.1 932.4 573.6 935.5 571 936C568.9 936.4 566.6 934 566 932C563.8 924.9 563.2 917.4 563 910C562.6 896.7 563.8 883.3 564 870C564.1 860 563.4 850 564 840C564.9 825.4 567 810.9 568.6 796.4C569.7 785.9 570.8 775.5 572 765C573.1 755 575 745.1 575.6 735C576.7 716.7 576.3 698.3 577 680C577.8 660 578.7 640 580 620Z" fill="#fff" stroke="#000" stroke-width="2.6" />
<path d="M598.6 693L597.8 720L596.3 754L592.6 755" fill="none" stroke="#000" stroke-width="2.6" />
<path d="M589.4 776C589.1 784 589 792 588.6 800C588.2 810 587.5 820 587 830" fill="none" stroke="#000" stroke-width="3.4" />
<path d="M571.6 735.3C572.4 734.9 573.7 735 574.3 735.6C575.4 736.7 576 738.3 576.1 739.8C576.4 744.9 575.8 749.9 575.5 755C575.2 761.3 574.9 767.7 574.3 774C573.9 778.4 573.2 782.7 572.5 787C572.2 789 571.9 791.1 571.2 793C570.7 794.3 570.2 796 568.9 796.5C568.1 796.8 567.2 795.6 566.9 794.7C566.3 792.6 567.4 790 566.4 788C565.8 786.8 563.6 787.1 562.8 786C561.7 784.4 561.2 782.4 561.3 780.5C561.4 778.9 562.1 777.2 563.2 776C564.1 774.9 566.7 775.4 567 774C568.5 767.9 568.6 761.5 568.3 755.2C568.3 754.4 566.6 755 566 754.5C565 753.7 563.9 752.7 563.5 751.5C563 750.1 563 748.4 563.5 747C564 745.6 565.1 744.5 566.2 743.4C567 742.6 568.3 742.5 568.9 741.6C569.5 740.6 568.9 739.1 569.4 738C569.9 736.9 570.6 735.8 571.6 735.3Z" fill="#fff" stroke="#000" stroke-width="2.6" />
</svg>
</body></html>
